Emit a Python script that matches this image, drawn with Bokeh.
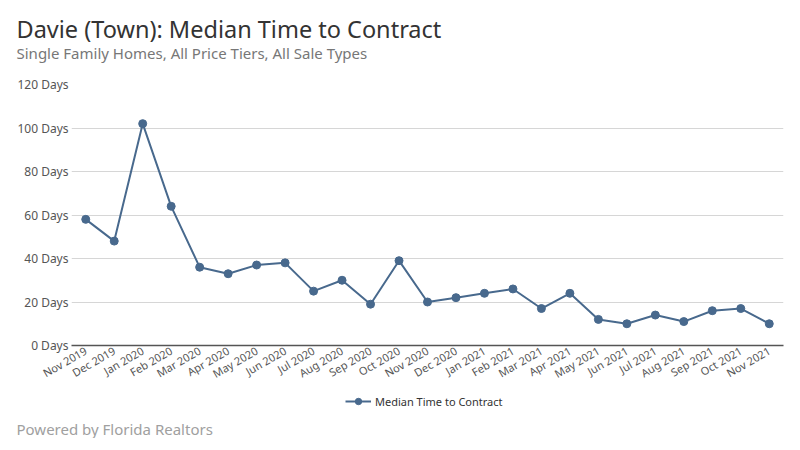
import math
from bokeh.plotting import figure
from bokeh.layouts import column
from bokeh.models import (FactorRange, FixedTicker, PrintfTickFormatter, Label,
                          Legend, LegendItem, ColumnDataSource, Range1d)
from bokeh.embed import file_html
from bokeh.resources import INLINE

months = ["Nov 2019", "Dec 2019", "Jan 2020", "Feb 2020", "Mar 2020", "Apr 2020",
          "May 2020", "Jun 2020", "Jul 2020", "Aug 2020", "Sep 2020", "Oct 2020",
          "Nov 2020", "Dec 2020", "Jan 2021", "Feb 2021", "Mar 2021", "Apr 2021",
          "May 2021", "Jun 2021", "Jul 2021", "Aug 2021", "Sep 2021", "Oct 2021",
          "Nov 2021"]
days = [58, 48, 102, 64, 36, 33, 37, 38, 25, 30, 19, 39, 20, 22, 24, 26, 17, 24,
        12, 10, 14, 11, 16, 17, 10]
y_ticks = [0, 20, 40, 60, 80, 100, 120]

FONT = "Noto Sans"
COLOR = "#48698d"

src = ColumnDataSource(dict(m=months, d=days))

unaligned = True


def strip(h):
    global unaligned
    f = figure(width=784, height=h, x_range=FactorRange(factors=months),
               y_range=Range1d(1000, 2000), output_backend="svg", toolbar_location=None,
               x_axis_location=None, y_axis_location=None,
               min_border_left=0, min_border_right=0, min_border_top=0,
               min_border_bottom=0)
    f.outline_line_color = None
    f.grid.grid_line_color = None
    f.background_fill_color = "white"
    f.border_fill_color = "white"
    try:
        f.frame_align = False
    except Exception:
        unaligned = False
    return f


# top strip: titles
p0 = strip(70)
tx = 16 if unaligned else 9
p0.add_layout(Label(x=tx, y=42, x_units="screen", y_units="screen",
                    text="Davie (Town): Median Time to Contract", text_font=FONT,
                    text_font_size="23.5px", text_color="#333333",
                    text_baseline="alphabetic"))
p0.add_layout(Label(x=tx, y=18, x_units="screen", y_units="screen",
                    text="Single Family Homes, All Price Tiers, All Sale Types",
                    text_font=FONT, text_font_size="15px", text_color="#777777",
                    text_baseline="alphabetic"))

# main chart
p = figure(width=784, height=321, x_range=FactorRange(factors=months),
           y_range=(0, 120), output_backend="svg", toolbar_location=None,
           min_border_left=71, min_border_right=1, min_border_top=14,
           min_border_bottom=46)
p.outline_line_color = None
p.background_fill_color = "white"
p.border_fill_color = "white"

p.line("m", "d", source=src, line_color=COLOR, line_width=2)
p.scatter("m", "d", source=src, size=8, fill_color=COLOR, line_color=COLOR)

p.xgrid.grid_line_color = None
p.ygrid.grid_line_color = "#d6d6d6"

p.yaxis.ticker = FixedTicker(ticks=y_ticks)
p.yaxis.formatter = PrintfTickFormatter(format="%d Days")
p.yaxis.axis_line_color = None
p.yaxis.major_tick_line_color = None
p.yaxis.minor_tick_line_color = None
p.yaxis.major_tick_out = 0
p.yaxis.major_tick_in = 0
p.yaxis.major_label_text_font = FONT
p.yaxis.major_label_text_font_size = "12px"
p.yaxis.major_label_text_color = "#555555"
p.yaxis.major_label_standoff = 3

p.xaxis.axis_line_color = "#555555"
p.xaxis.axis_line_width = 1.5
p.xaxis.major_tick_line_color = None
p.xaxis.minor_tick_line_color = None
p.xaxis.major_tick_out = 0
p.xaxis.major_tick_in = 0
p.xaxis.major_label_orientation = math.pi / 6
p.xaxis.major_label_text_font = FONT
p.xaxis.major_label_text_font_size = "11px"
p.xaxis.major_label_text_color = "#555555"
p.xaxis.major_label_standoff = 4

# bottom strip: legend and footer
p2 = strip(47)
l2 = p2.line("m", "d", source=src, line_color=COLOR, line_width=2)
s2 = p2.scatter("m", "d", source=src, size=8, fill_color=COLOR, line_color=COLOR)

lx = 345 if unaligned else 274
legend = Legend(items=[LegendItem(label="Median Time to Contract", renderers=[l2, s2])],
                location=(lx, 29), orientation="horizontal", border_line_color=None,
                background_fill_alpha=0,
                label_text_font=FONT, label_text_font_size="11px",
                label_text_color="#333333", glyph_width=26, glyph_height=16,
                label_height=16, label_standoff=4, margin=0, padding=0, spacing=0)
p2.add_layout(legend, "center")

p2.add_layout(Label(x=tx, y=10, x_units="screen", y_units="screen",
                    text="Powered by Florida Realtors", text_font=FONT,
                    text_font_size="15px", text_color="#a0a0a0",
                    text_baseline="alphabetic"))

layout = column(p0, p, p2, spacing=0)
open("out.html", "w").write(file_html(layout, INLINE))
